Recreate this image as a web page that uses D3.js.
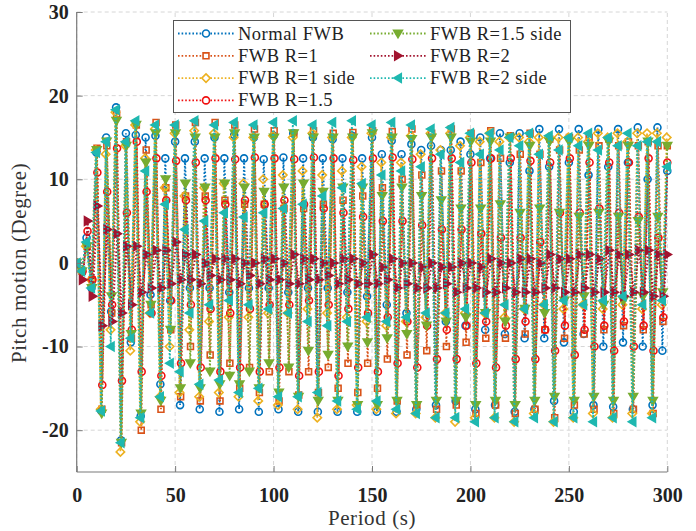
<!DOCTYPE html>
<html><head><meta charset="utf-8">
<script src="https://cdn.jsdelivr.net/npm/d3@7"></script>
<style>body{margin:0;background:#fff}svg{display:block}</style>
</head><body><svg id="c" width="696" height="531"></svg>
<script>
// ---------- data ----------
const seriesNames = ["Normal FWB","FWB R=1","FWB R=1 side","FWB R=1.5","FWB R=1.5 side","FWB R=2","FWB R=2 side"];
const xTicks = [0,50,100,150,200,250,300];
const yTicks = [-20,-10,0,10,20,30];
const sampleStep = 2.5;               // seconds between samples (cycle of 4 samples = 10 s)
const lagSec = [0.0, 0.3, -0.3, 0.5, 0.2, 0.6, -0.2];

// per cycle (t = 10k): high peak, deep trough (10k+2.5), second peak (10k+5), shallow trough (10k+7.5)
const normalP = [0,13.2,18.6,15.3,15.2,14.5,14.5,15.0,15.3,15.0,15.2,15.5,15.0,14.8,15.2,15.0,14.6,14.2,14.0,13.5,13.0,12.5,12.0,11.0,11.5,12.0,10.5,11.5,12.0,10.0,11.0];
const normalT = [-1,-17.7,-21.2,-18.3,-14.5,-17.0,-17.5,-17.8,-17.5,-17.8,-17.5,-17.8,-17.8,-17.8,-17.8,-17.8,-17.8,-17.5,-17.0,-16.5,-17.5,-17.0,-17.8,-17.5,-16.5,-17.8,-17.0,-17.2,-17.5,-17.0];
const normalp = [3,15.0,15.5,15.0,12.5,12.5,12.5,12.5,12.5,12.4,12.6,12.5,12.5,12.5,12.5,13.0,13.0,13.5,13.5,14.5,15.0,15.5,15.5,16.0,16.0,16.0,16.0,16.0,16.2,16.2];
const normalq = [-3,-5.8,-9.5,-3.8,-4.5,-3.0,-3.0,-3.5,-3.0,-3.0,-3.5,-3.0,-3.0,-3.5,-4.0,-5.0,-6.0,-6.5,-7.0,-7.5,-8.0,-8.5,-9.0,-9.0,-9.5,-8.5,-10.0,-9.5,-10.0,-10.5];

const r1P = [0,13.7,17.8,16.5,16.8,16.5,16.8,16.8,16.5,16.0,15.8,15.5,15.8,15.5,15.6,15.8,15.7,16.0,15.5,16.0,15.5,15.8,15.2,15.5,14.8,15.0,15.0,14.8,14.5,14.5,14.0];
const r1T = [-1,-17.5,-21.5,-20.0,-17.5,-16.0,-16.5,-16.5,-15.0,-15.5,-16.5,-15.8,-15.5,-15.0,-15.5,-15.0,-16.5,-17.0,-17.5,-17.0,-18.0,-17.0,-18.0,-17.5,-18.5,-17.0,-17.5,-18.0,-17.5,-18.0];
const r1p = [2,14.0,14.5,13.5,9.0,8.0,8.0,7.5,7.0,7.0,6.5,6.5,7.0,7.5,8.0,9.0,10.0,10.5,11.0,11.0,12.0,12.5,13.0,13.0,13.5,13.5,14.0,14.0,14.0,14.0];
const r1q = [-2,-6.0,-9.0,-5.0,-8.0,-10.0,-11.0,-12.0,-12.5,-13.0,-13.0,-13.0,-12.5,-12.0,-12.0,-11.5,-11.0,-10.5,-10.0,-9.5,-9.0,-9.0,-8.5,-8.0,-9.0,-8.5,-8.0,-7.5,-8.0,-7.0];

const r1sP = [0,13.5,18.0,16.5,16.0,15.5,15.8,15.5,15.0,15.0,15.2,15.0,15.5,15.0,15.0,15.5,15.0,15.2,15.5,15.5,15.0,15.5,15.0,14.5,15.0,15.0,14.5,15.0,14.5,15.5,15.0];
const r1sT = [-1,-17.5,-22.6,-19.0,-16.0,-15.5,-16.0,-15.5,-16.0,-16.5,-17.0,-17.5,-18.5,-17.5,-17.0,-17.5,-18.0,-18.0,-18.5,-19.0,-18.5,-18.5,-19.0,-18.0,-19.0,-18.5,-18.0,-18.5,-18.0,-18.0];
const r1sp = [2,13.0,14.0,12.5,9.0,8.0,9.0,9.5,9.5,10.0,10.5,11.0,10.5,11.0,11.5,12.0,12.0,13.0,13.5,14.0,14.5,14.5,15.0,15.0,15.0,15.0,15.5,15.5,15.5,15.5];
const r1sq = [-2,-8.0,-10.5,-6.0,-10.0,-8.0,-7.0,-6.5,-6.5,-6.0,-6.0,-5.5,-6.0,-6.5,-7.0,-7.5,-7.0,-6.5,-6.0,-6.0,-6.0,-6.5,-5.5,-5.0,-5.5,-5.0,-5.5,-5.0,-5.5,-5.0];

const r15P = [0,10.8,13.7,14.5,12.5,12.2,12.0,12.5,12.4,12.6,12.5,12.4,12.6,12.5,12.3,12.5,12.6,12.4,12.5,12.5,12.0,12.5,12.5,12.2,12.0,12.5,12.0,12.0,12.0,12.5,12.0];
const r15T = [-1,-14.6,-14.1,-13.0,-13.5,-12.0,-12.5,-13.0,-12.5,-13.0,-12.5,-13.5,-13.0,-13.5,-12.5,-13.0,-12.0,-12.5,-11.5,-11.5,-12.0,-12.5,-11.5,-11.5,-10.5,-11.0,-10.0,-10.5,-10.0,-10.5];
const r15p = [3.8,8.5,6.0,8.5,7.5,7.5,7.5,7.0,7.5,7.0,7.5,7.0,6.5,6.0,5.5,5.0,5.0,4.5,4.0,4.0,3.5,3.0,3.0,2.5,6.0,6.0,6.5,6.0,5.5,3.0];
const r15q = [-2,-5.0,-8.0,-6.0,-4.5,-5.0,-5.5,-6.0,-5.5,-5.0,-5.0,-4.5,-5.0,-5.5,-6.0,-6.5,-7.0,-7.5,-8.0,-7.5,-7.0,-7.5,-7.0,-8.0,-7.5,-8.0,-7.5,-7.0,-7.5,-6.5];

const r15sP = [0,13.5,17.0,16.5,15.5,15.5,15.0,15.0,15.5,15.0,15.0,15.5,15.0,15.0,15.0,15.5,15.0,14.8,15.0,15.0,14.5,14.5,15.0,14.0,14.5,14.5,14.0,14.5,14.0,14.5,14.0];
const r15sT = [-1,-18.0,-21.5,-18.0,-16.5,-15.0,-15.0,-14.5,-14.5,-15.0,-15.5,-16.0,-16.5,-16.5,-17.0,-17.0,-16.5,-17.0,-16.5,-16.5,-17.0,-16.5,-17.0,-16.5,-16.0,-16.5,-16.0,-16.5,-16.0,-16.5];
const r15sp = [2,14.5,14.0,12.0,10.0,9.5,9.0,9.5,9.0,8.5,9.0,9.5,8.5,9.0,9.0,8.0,9.0,8.0,7.5,6.5,6.5,7.0,6.0,6.5,6.0,5.5,6.0,5.5,5.0,5.5];
const r15sq = [-3,-4.0,-8.5,-5.0,-8.0,-12.0,-13.0,-13.5,-13.0,-12.0,-12.5,-10.5,-11.0,-10.0,-9.5,-9.0,-8.5,-7.5,-7.0,-6.5,-6.0,-7.0,-5.5,-6.0,-4.5,-4.0,-5.0,-4.5,-4.0,-3.5];

const r2P = [0,6.8,3.5,2.0,1.5,2.5,1.0,0.5,0.5,0.0,0.5,1.0,0.5,0.0,0.5,1.0,0.5,0.0,0.0,-0.5,0.0,0.5,0.0,0.5,1.0,0.5,1.0,1.5,1.0,1.5,1.0];
const r2T = [-2,-7.5,-6.0,-3.5,-3.0,-2.0,-2.5,-2.0,-2.5,-2.5,-2.0,-2.5,-2.0,-2.5,-2.5,-2.5,-3.0,-3.0,-3.0,-3.5,-3.0,-3.5,-3.5,-3.5,-3.0,-3.5,-3.5,-3.5,-3.5,-4.0];
const r2p = [5,4.0,2.0,1.0,1.5,1.0,0.0,0.5,0.0,0.5,0.0,0.5,0.0,0.5,0.0,-0.5,0.0,-0.5,-0.5,0.0,-0.5,0.0,0.5,0.0,0.5,1.0,0.5,1.0,1.5,1.0];
const r2q = [-4,-7.0,-5.0,-3.0,-2.5,-2.0,-1.5,-2.0,-1.5,-2.0,-2.5,-2.0,-1.5,-2.0,-2.5,-2.0,-2.5,-3.0,-2.5,-3.0,-3.5,-3.0,-3.5,-3.0,-3.5,-3.0,-3.5,-4.0,-3.5,-4.0];

const r2sP = [0,13.2,18.3,17.0,16.5,16.5,17.0,16.5,16.8,16.5,16.8,17.0,16.5,16.8,17.0,16.5,16.8,16.5,16.0,16.2,15.5,15.5,15.0,15.5,15.2,15.0,15.5,15.0,15.5,14.5,11.5];
const r2sT = [-1,-17.7,-21.5,-18.5,-16.0,-13.0,-14.5,-14.0,-15.5,-15.0,-16.0,-16.0,-15.5,-16.5,-17.5,-16.5,-17.5,-18.0,-18.5,-18.5,-19.0,-18.5,-19.0,-18.5,-19.0,-18.5,-19.0,-18.5,-19.0,-18.5];
const r2sp = [2.5,14.5,14.5,11.0,7.0,4.0,5.0,6.0,5.5,6.0,6.5,7.0,8.0,9.0,9.5,10.5,11.0,11.5,13.0,12.0,13.0,13.5,14.0,13.0,13.5,14.0,13.5,14.0,14.0,14.5];
const r2sq = [-3,-10.0,-9.0,-6.0,-12.0,-6.0,-5.0,-4.5,-5.0,-5.5,-6.0,-7.0,-7.5,-7.0,-6.5,-7.0,-6.5,-6.0,-6.0,-5.5,-6.0,-5.0,-5.5,-5.0,-4.5,-5.0,-4.5,-4.0,-5.0,-4.5];

const seriesParts = [
  [normalP, normalT, normalp, normalq],
  [r1P, r1T, r1p, r1q],
  [r1sP, r1sT, r1sp, r1sq],
  [r15P, r15T, r15p, r15q],
  [r15sP, r15sT, r15sp, r15sq],
  [r2P, r2T, r2p, r2q],
  [r2sP, r2sT, r2sp, r2sq]
];

// ---------- style ----------
const colors = ["#0072BD","#D95319","#EDB120","#F01010","#77AC30","#A2142F","#1FB8B0"];
const markers = ["circle","square","diamond","circle","tdown","tright","tleft"];
const filled  = [false,false,false,false,true,true,true];
const serif = "'Liberation Serif', 'Times New Roman', serif";

const W = 696, H = 531;
const m = {l:76.7, r:W-667.3, t:12, b:H-472};
const svg = d3.select("#c");
const x = d3.scaleLinear().domain([0,300]).range([m.l, W-m.r]);
const y = d3.scaleLinear().domain([-25,30]).range([H-m.b, m.t]);

// grid
const g = svg.append("g");
g.selectAll(".gx").data(xTicks).join("line")
  .attr("x1",d=>x(d)).attr("x2",d=>x(d)).attr("y1",y(-25)).attr("y2",y(30))
  .attr("stroke","#d6d6d6").attr("stroke-width",1).attr("stroke-dasharray","4 3");
g.selectAll(".gy").data(yTicks).join("line")
  .attr("x1",x(0)).attr("x2",x(300)).attr("y1",d=>y(d)).attr("y2",d=>y(d))
  .attr("stroke","#d6d6d6").attr("stroke-width",1).attr("stroke-dasharray","4 3");

// clip
svg.append("clipPath").attr("id","clip").append("rect")
  .attr("x",x(0)).attr("y",y(30)-6).attr("width",x(300)-x(0)+6).attr("height",y(-25)-y(30)+6);

function markerPath(type, s){
  switch(type){
    case "circle": return d3.symbol(d3.symbolCircle, Math.PI*s*s/4)();
    case "square": {const h=s*0.42; return `M${-h},${-h}H${h}V${h}H${-h}Z`;}
    case "diamond": {const h=s*0.6; return `M0,${-h}L${h},0L0,${h}L${-h},0Z`;}
    case "tdown": {const h=s*0.62; return `M${-h},${-h*0.75}L${h},${-h*0.75}L0,${h*0.95}Z`;}
    case "tright": {const h=s*0.62; return `M${-h*0.75},${-h}L${h*0.95},0L${-h*0.75},${h}Z`;}
    case "tleft": {const h=s*0.62; return `M${h*0.75},${-h}L${-h*0.95},0L${h*0.75},${h}Z`;}
  }
}

const plot = svg.append("g").attr("clip-path","url(#clip)");
const line = d3.line().x(d=>x(d.t)).y(d=>y(d.v));

seriesParts.forEach((parts,i)=>{
  const [P,T,p,q] = parts;
  const pts = [];
  for(let k=0;k<T.length;k++){
    const base = 4*k;
    pts.push({t:base*sampleStep, v:P[k]});
    pts.push({t:(base+1)*sampleStep, v:T[k]});
    pts.push({t:(base+2)*sampleStep, v:p[k]});
    pts.push({t:(base+3)*sampleStep, v:q[k]});
  }
  if(P.length>T.length) pts.push({t:4*T.length*sampleStep, v:P[P.length-1]});
  pts.forEach((d,j)=>{ if(j>0) d.t = Math.min(300, d.t + lagSec[i]); });
  const sg = plot.append("g");
  sg.append("path").datum(pts).attr("d",line).attr("fill","none")
    .attr("stroke",colors[i]).attr("stroke-width",1.8).attr("stroke-dasharray","1.6 2");
  sg.selectAll("path.mk").data(pts).join("path").attr("class","mk")
    .attr("transform",d=>`translate(${x(d.t)},${y(d.v)})`)
    .attr("d",markerPath(markers[i], 7))
    .attr("fill",filled[i]?colors[i]:"none")
    .attr("stroke",colors[i]).attr("stroke-width",1.6);
});

// axes (MATLAB style: ticks inward)
const axColor = "#7a7a7a";
const xa = svg.append("g").attr("transform",`translate(0,${y(-25)})`)
  .call(d3.axisBottom(x).tickValues(xTicks).tickSize(-6).tickPadding(16).tickFormat(d=>String(d)));
const ya = svg.append("g").attr("transform",`translate(${x(0)},0)`)
  .call(d3.axisLeft(y).tickValues(yTicks).tickSize(-6).tickPadding(8).tickFormat(d=>String(d)));
[xa,ya].forEach(a=>{
  a.attr("font-family",serif);
  a.select(".domain").attr("stroke",axColor).attr("stroke-width",1.2);
  a.selectAll(".tick line").attr("stroke",axColor).attr("stroke-width",1);
  a.selectAll(".tick text").attr("fill","#222").attr("font-family",serif)
    .attr("font-weight","bold").attr("font-size",20);
});
xa.select(".domain").attr("d",`M${x(0)},0H${x(300)}`);
ya.select(".domain").attr("d",`M0,${y(-25)}V${y(30)}`);

// axis titles
svg.append("text").attr("x",(x(0)+x(300))/2).attr("y",525).attr("text-anchor","middle")
  .attr("font-family",serif).attr("font-size",21).attr("letter-spacing",0.6)
  .attr("fill","#333").text("Period (s)");
svg.append("text").attr("transform",`translate(26,${y(0)}) rotate(-90)`)
  .attr("text-anchor","middle").attr("font-family",serif)
  .attr("font-size",21).attr("letter-spacing",0.6).attr("fill","#333").text("Pitch motion (Degree)");

// legend
const lg = svg.append("g");
lg.append("rect").attr("x",173.5).attr("y",20.5).attr("width",397).attr("height",92)
  .attr("fill","#fff").attr("stroke","#555").attr("stroke-width",1);
const legendCols = [{x0:178},{x0:370}];
seriesNames.forEach((name,i)=>{
  const col = i<4 ? 0 : 1, row = i<4 ? i : i-4;
  const lx = legendCols[col].x0, ly = 33.5 + row*22.3;
  const item = lg.append("g");
  item.append("line").attr("x1",lx).attr("x2",lx+56).attr("y1",ly).attr("y2",ly)
    .attr("stroke",colors[i]).attr("stroke-width",1.8).attr("stroke-dasharray","1.6 2");
  item.append("path").attr("transform",`translate(${lx+28},${ly})`)
    .attr("d",markerPath(markers[i],7)).attr("fill",filled[i]?colors[i]:"#fff")
    .attr("stroke",colors[i]).attr("stroke-width",1.6);
  item.append("text").attr("x",lx+60).attr("y",ly+6).attr("font-family",serif)
    .attr("font-size",18.5).attr("letter-spacing",0.5).attr("fill","#222").text(name);
});
</script></body></html>
